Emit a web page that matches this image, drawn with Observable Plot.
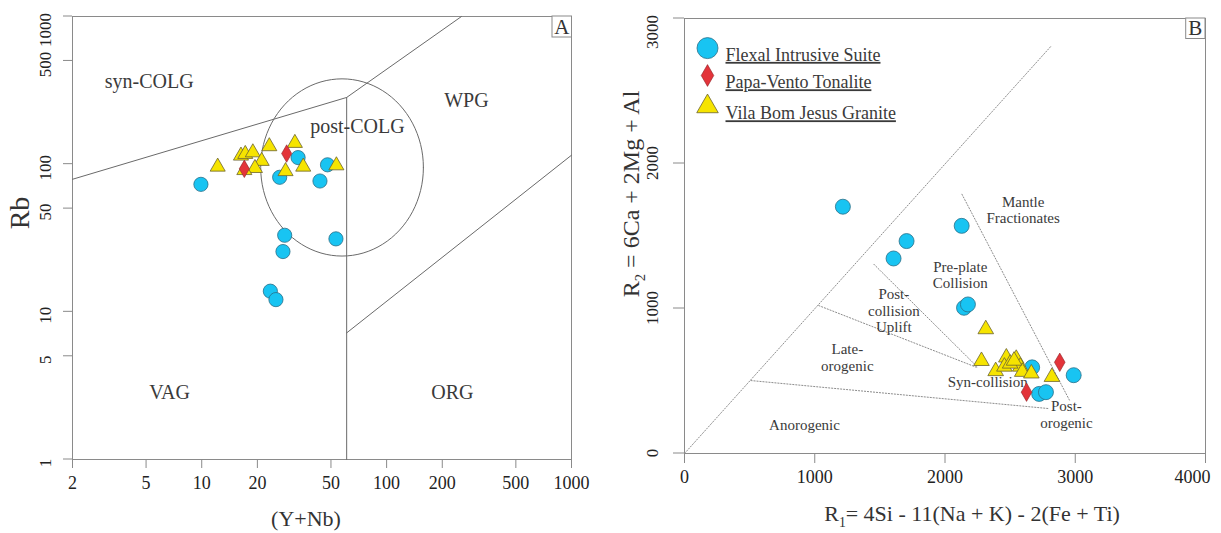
<!DOCTYPE html>
<html><head><meta charset="utf-8">
<script src="https://cdn.jsdelivr.net/npm/d3@7"></script>
<script src="https://cdn.jsdelivr.net/npm/@observablehq/plot@0.6"></script>
<style>
html,body{margin:0;padding:0;background:#fff}
body{width:1221px;height:533px;position:relative;overflow:hidden;font-family:"Liberation Serif","Times New Roman",serif}
#a{position:absolute;left:0;top:0}
#b{position:absolute;left:600px;top:0}
svg{overflow:visible}
</style></head><body>
<div id="a"></div><div id="b"></div>
<script>
const serif = "'Liberation Serif','Times New Roman',serif";
const seriesNames = ["Flexal Intrusive Suite", "Papa-Vento Tonalite", "Vila Bom Jesus Granite"];

// ---------- Panel A : Rb vs (Y+Nb) ----------
const xTicksA = [2, 5, 10, 20, 50, 100, 200, 500, 1000];
const yTicksA = [1, 5, 10, 50, 100, 500, 1000];
const flexalYNb = [9.9, 26.4, 33.2, 47.9, 43.6, 28.1, 27.5, 53.2, 23.5, 25.2];
const flexalRb  = [73, 81.5, 110.8, 99, 76.9, 33, 25.6, 31.2, 13.8, 12.1];
const papaYNb = [17.0, 28.8];
const papaRb  = [93, 118];
const vilaYNb = [12.2, 16.3, 17.2, 18.9, 21.1, 23.2, 19.4, 17.0, 28.4, 31.9, 35.4, 53.5];
const vilaRb  = [96, 114, 117, 120, 105, 132, 94, 91, 89.5, 139, 96, 98];
// field boundaries
const synColgLineYNb = [2, 60.8, 254];
const synColgLineRb  = [79, 283, 1000];
const vagOrgLineYNb = [60.8, 60.8];
const vagOrgLineRb  = [283, 1];
const orgWpgLineYNb = [60.8, 1000];
const orgWpgLineRb  = [7.2, 115];
const postColgCenter = [57.4, 95];          // (Y+Nb, Rb)
const postColgHalfAxesDecades = [0.44, 0.60];
const regionNamesA = ["syn-COLG", "post-COLG", "WPG", "VAG", "ORG"];
const regionYNbA = [5.2, 69.5, 270, 6.7, 227];
const regionRbA  = [360, 179, 268, 2.84, 2.85];

// ---------- Panel B : R1-R2 ----------
const xTicksB = [0, 1000, 2000, 3000, 4000];
const yTicksB = [0, 1000, 2000, 3000];
const flexalR1 = [1216, 1605, 1705, 2128, 2146, 2176, 2669, 2988, 2723, 2775];
const flexalR2 = [1702, 1345, 1465, 1570, 1005, 1028, 594, 540, 411, 423];
const papaR1 = [2881, 2626];
const papaR2 = [629, 423];
const vilaR1 = [2313, 2280, 2389, 2471, 2456, 2547, 2578, 2593, 2663, 2821, 2500, 2530];
const vilaR2 = [857, 638, 568, 662, 599, 653, 599, 563, 552, 528, 620, 640];
const boundaryLinesR1 = [[0, 2815], [1031, 2240], [1454, 2245], [510, 2795], [2130, 2960]];
const boundaryLinesR2 = [[0, 2810], [1020, 595], [1305, 600], [503, 310], [1788, 360]];
const regionNamesB = ["Mantle\nFractionates", "Pre-plate\nCollision", "Post-\ncollision\nUplift", "Late-\norogenic", "Syn-collision", "Post-\norogenic", "Anorogenic"];
const regionR1B = [2600, 2117, 1607, 1250, 2328, 2932, 921];
const regionR2B = [1682, 1232, 985, 663, 493, 270, 200];

// ---------- styles ----------
const circleStyle = {symbol: "circle", fill: "#18c4f2", stroke: "#2a6f88", strokeWidth: 0.8};
const diamondStyle = {symbol: "diamond", fill: "#e3343a", stroke: "#8e2428", strokeWidth: 0.6};
const triangleStyle = {symbol: "triangle", fill: "#f6e400", stroke: "#6b6330", strokeWidth: 0.8};
const tickColor = "#8a8a8a";

function pts(xs, ys) { return d3.zip(xs, ys); }
function xLabels(ticks, lastEndDx) {
  const last = ticks[ticks.length - 1];
  const normal = lastEndDx == null ? ticks : ticks.slice(0, -1);
  const marks = [Plot.text(normal, {x: d => d, text: d => String(d), frameAnchor: "bottom", dy: 29, fontSize: 18, fill: "#222"})];
  if (lastEndDx != null) marks.push(Plot.text([last], {x: d => d, text: d => String(d), frameAnchor: "bottom", dy: 29, dx: lastEndDx, textAnchor: "end", fontSize: 18, fill: "#222"}));
  return marks;
}

// ellipse of the post-COLG field (drawn in log space)
const ellipsePts = d3.range(0, 97).map(i => {
  const t = i / 96 * 2 * Math.PI;
  return [Math.pow(10, Math.log10(postColgCenter[0]) + postColgHalfAxesDecades[0] * Math.cos(t)),
          Math.pow(10, Math.log10(postColgCenter[1]) + postColgHalfAxesDecades[1] * Math.sin(t))];
});

const plotA = Plot.plot({
  width: 600, height: 533,
  marginLeft: 72, marginRight: 29, marginTop: 16, marginBottom: 74,
  style: {fontFamily: serif, background: "transparent", color: "#222", overflow: "visible"},
  x: {type: "log", domain: [2, 1000]},
  y: {type: "log", domain: [1, 1000], axis: null},
  marks: [
    Plot.frame({stroke: tickColor}),
    Plot.axisX({ticks: xTicksA, tickSize: 9, stroke: tickColor, color: "transparent", tickFormat: () => "", label: null}),
    ...xLabels(xTicksA, null),
    Plot.line(pts(synColgLineYNb, synColgLineRb), {x: d => d[0], y: d => d[1], stroke: "#6a6a6a", strokeWidth: 1}),
    Plot.line(pts(vagOrgLineYNb, vagOrgLineRb), {x: d => d[0], y: d => d[1], stroke: "#6a6a6a", strokeWidth: 1}),
    Plot.line(pts(orgWpgLineYNb, orgWpgLineRb), {x: d => d[0], y: d => d[1], stroke: "#6a6a6a", strokeWidth: 1}),
    Plot.line(ellipsePts, {x: d => d[0], y: d => d[1], stroke: "#6a6a6a", strokeWidth: 1, curve: "linear"}),
    Plot.text(regionNamesA, {x: (d, i) => regionYNbA[i], y: (d, i) => regionRbA[i], text: d => d, fontSize: 20, fill: "#3a3a3a"}),
    Plot.dot(pts(flexalYNb, flexalRb), {x: d => d[0], y: d => d[1], r: 7.1, ...circleStyle}),
    Plot.dot(pts(vilaYNb, vilaRb), {x: d => d[0], y: d => d[1], r: 5.6, ...triangleStyle}),
    Plot.dot(pts(papaYNb, papaRb), {x: d => d[0], y: d => d[1], r: 5.3, ...diamondStyle})
  ]
});

const legendRowDy = [29.6, 57, 88];
const legendSymbols = [
  {r: 10.5, ...circleStyle},
  {r: 6.6, ...diamondStyle},
  {r: 8, ...triangleStyle}
];

const plotB = Plot.plot({
  width: 621, height: 533,
  marginLeft: 84, marginRight: 16, marginTop: 18, marginBottom: 80,
  style: {fontFamily: serif, background: "transparent", color: "#222", overflow: "visible"},
  x: {domain: [0, 4000]},
  y: {domain: [0, 3000], axis: null},
  marks: [
    Plot.frame({stroke: tickColor}),
    Plot.axisX({ticks: xTicksB, tickSize: 10, stroke: tickColor, color: "transparent", tickFormat: () => "", label: null}),
    ...xLabels(xTicksB, 5),
    ...boundaryLinesR1.map((xs, i) => Plot.line(pts(xs, boundaryLinesR2[i]), {x: d => d[0], y: d => d[1], stroke: "#8c8c8c", strokeWidth: 1, strokeDasharray: "1.2,1.8"})),
    Plot.text(regionNamesB, {x: (d, i) => regionR1B[i], y: (d, i) => regionR2B[i], text: d => d, fontSize: 15, lineHeight: 1.1, fill: "#3a3a3a"}),
    Plot.dot(pts(flexalR1, flexalR2), {x: d => d[0], y: d => d[1], r: 7.5, ...circleStyle}),
    Plot.dot(pts(vilaR1, vilaR2), {x: d => d[0], y: d => d[1], r: 5.8, ...triangleStyle}),
    Plot.dot(pts(papaR1, papaR2), {x: d => d[0], y: d => d[1], r: 5.6, ...diamondStyle}),
    ...seriesNames.map((name, i) => Plot.dot([name], {frameAnchor: "top-left", dx: 23, dy: legendRowDy[i], ...legendSymbols[i]})),
    ...seriesNames.map((name, i) => Plot.text([name], {frameAnchor: "top-left", dx: 41, dy: legendRowDy[i], text: d => d, textAnchor: "start", fontSize: 18, fill: "#3a3a3a"}))
  ]
});

document.getElementById("a").appendChild(plotA);
document.getElementById("b").appendChild(plotB);

// underline legend entries
d3.select(plotB).selectAll("text").filter(function() { return seriesNames.includes(this.textContent); })
  .style("text-decoration", "underline");

// y ticks and rotated y tick labels, positioned with the plot's own y scale
function yAxis(svg, ticks, x0, tickLen, cx, size, shift) {
  const y = svg.scale("y");
  const top = d3.max(ticks);
  const g = d3.select(svg).append("g");
  ticks.forEach(t => {
    const py = y.apply(t);
    g.append("line").attr("x1", x0 - tickLen).attr("x2", x0).attr("y1", py).attr("y2", py)
      .attr("stroke", tickColor).attr("stroke-width", 1);
    const isTop = t === top;
    g.append("text")
      .attr("x", 0).attr("y", 0)
      .attr("transform", "translate(" + cx + "," + (py + (isTop ? -3 : shift)) + ") rotate(-90)")
      .attr("text-anchor", isTop ? "end" : "middle")
      .attr("dy", "0.34em")
      .attr("font-family", serif).attr("font-size", size).attr("fill", "#222")
      .text(String(t));
  });
}
yAxis(plotA, yTicksA, 72, 9, 45, 17, 4);
yAxis(plotB, yTicksB, 84, 11, 52.7, 17, 0);

// axis titles and panel letters
function title(svg, x, y, rotate, size, parts) {
  const t = d3.select(svg).append("text")
    .attr("transform", `translate(${x},${y})` + (rotate ? ` rotate(${rotate})` : ""))
    .attr("text-anchor", "middle").attr("font-family", serif).attr("font-size", size).attr("fill", "#333");
  parts.forEach(p => {
    const s = t.append("tspan").text(p.t);
    if (p.sub) s.attr("font-size", size * 0.62).attr("dy", size * 0.25);
    if (p.back) s.attr("dy", -size * 0.25);
  });
}
function panelLetter(svg, x0, y0, w, h, letter) {
  const g = d3.select(svg).append("g");
  g.append("rect").attr("x", x0).attr("y", y0).attr("width", w).attr("height", h).attr("fill", "#fff").attr("stroke", tickColor);
  g.append("text").attr("x", x0 + w / 2).attr("y", y0 + h - 3.5).attr("text-anchor", "middle")
    .attr("font-family", serif).attr("font-size", 21).attr("fill", "#333").text(letter);
}
title(plotA, 29, 213, -90, 28, [{t: "Rb"}]);
title(plotA, 306, 525.5, 0, 22, [{t: "(Y+Nb)"}]);
title(plotB, 38.5, 194, -90, 24, [{t: "R"}, {t: "2", sub: true}, {t: " = 6Ca + 2Mg + Al", back: true}]);
title(plotB, 372, 521, 0, 22, [{t: "R"}, {t: "1", sub: true}, {t: "= 4Si - 11(Na + K) - 2(Fe + Ti)", back: true}]);
panelLetter(plotA, 552, 16, 19.5, 21, "A");
panelLetter(plotB, 585.7, 18, 19.3, 20.5, "B");
</script>
</body></html>
